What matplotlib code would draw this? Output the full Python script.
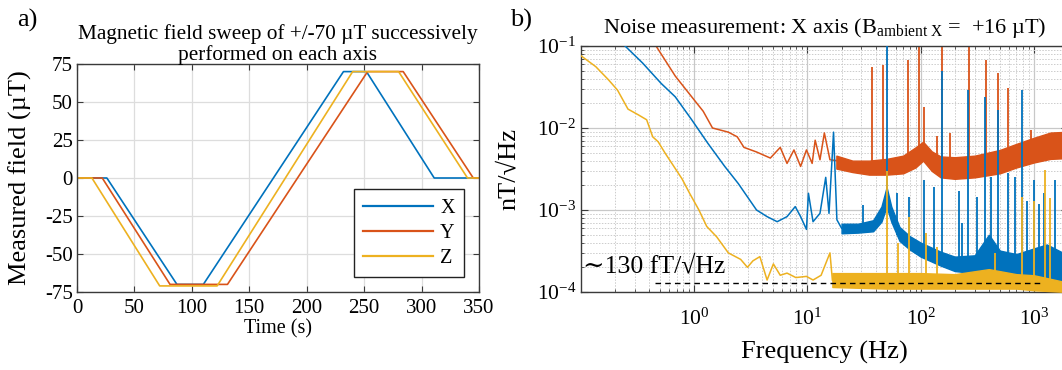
import numpy as np
import matplotlib
matplotlib.use("Agg")
import matplotlib.pyplot as plt
from matplotlib.ticker import LogLocator, NullFormatter, MultipleLocator

# ---------------- Panel a: field sweep ----------------
time_x = [0, 26, 87, 110, 232, 252, 311, 350]
field_x = [0, 0, -70, -70, 70, 70, 0, 0]
time_y = [0, 22, 81, 131, 253, 284, 345, 350]
field_y = [0, 0, -70, -70, 70, 70, 0, 0]
time_z = [0, 13, 72, 122, 240, 280, 340, 350]
field_z = [0, 0, -71, -71, 70, 70, 0, 0]
sweep_labels = ["X", "Y", "Z"]

# ---------------- Panel b: noise spectra (nT/sqrt(Hz)) ----------------
# low-frequency traces
red_f = [0.46, 0.68, 0.95, 1.2, 1.45, 2.0, 2.4, 2.75, 3.55, 4.7, 5.75, 6.6, 7.6,
         8.7, 9.8, 11.0, 11.7, 12.9, 14.1, 15.8, 18.2]
red_v = [0.10, 0.043, 0.024, 0.016, 0.010, 0.0089, 0.0078, 0.0058, 0.0051, 0.0043,
         0.0058, 0.0037, 0.0054, 0.0034, 0.0054, 0.0037, 0.0071, 0.0041, 0.0087,
         0.0041, 0.0040]
blue_f = [0.245, 0.35, 0.51, 0.68, 0.95, 1.32, 1.86, 2.45, 3.55, 4.4, 5.4, 6.6, 7.8,
          8.7, 9.8, 10.2, 11.2, 12.9, 14.5, 15.5, 17.0, 18.2, 20.0]
blue_v = [0.10, 0.062, 0.035, 0.024, 0.0126, 0.0065, 0.0034, 0.0021, 0.0010, 0.00083,
          0.00072, 0.00083, 0.0011, 0.00083, 0.00058, 0.0016, 0.00072, 0.00091,
          0.0025, 0.00091, 0.0089, 0.00076, 0.00060]
yellow_f = [0.10, 0.135, 0.174, 0.21, 0.26, 0.32, 0.38, 0.43, 0.48, 0.55, 0.68, 0.78,
            0.91, 1.1, 1.29, 1.58, 2.0, 2.57, 2.95, 3.3, 3.8, 4.4, 5.0, 5.75, 6.6,
            7.9, 9.8, 11.2, 13.2, 15.8, 16.6]
yellow_v = [0.076, 0.056, 0.039, 0.029, 0.017, 0.0145, 0.0126, 0.0078, 0.0068, 0.0050,
            0.0032, 0.0024, 0.0016, 0.0010, 0.00063, 0.00047, 0.00030, 0.00025,
            0.00020, 0.00024, 0.00027, 0.00014, 0.00022, 0.00016, 0.00017, 0.00015,
            0.000155, 0.00014, 0.00016, 0.00030, 0.00014]

# high-frequency noise envelopes (freq, lower, upper)
red_band_f = [18, 25, 35, 50, 70, 90, 105, 125, 150, 200, 300, 500, 700, 1000, 1400, 2000]
red_band_lo = [0.0032, 0.0029, 0.0027, 0.0027, 0.0028, 0.0033, 0.0040, 0.0030, 0.0025,
               0.0024, 0.0025, 0.0028, 0.0033, 0.0038, 0.0042, 0.0043]
red_band_hi = [0.0046, 0.0040, 0.0040, 0.0042, 0.0046, 0.0058, 0.0068, 0.0052, 0.0045,
               0.0044, 0.0046, 0.0054, 0.0064, 0.0076, 0.0088, 0.0090]
blue_band_f = [20, 28, 38, 45, 50, 55, 65, 80, 100, 150, 200, 300, 400, 500, 700, 1000,
               1300, 2000]
blue_band_lo = [0.00052, 0.00053, 0.00055, 0.00072, 0.0011, 0.00072, 0.00042, 0.00033,
                0.00027, 0.00021, 0.00018, 0.00017, 0.00019, 0.00017, 0.00015,
                0.00014, 0.00012, 0.00011]
blue_band_hi = [0.00068, 0.00068, 0.00075, 0.0011, 0.0019, 0.0011, 0.00062, 0.00048,
                0.00040, 0.00031, 0.00027, 0.00028, 0.00050, 0.00032, 0.00029,
                0.00034, 0.00038, 0.00028]
yellow_band_f = [16.6, 50, 100, 200, 400, 700, 1000, 2000]
yellow_band_lo = [0.000115, 0.00011, 0.00011, 0.00011, 0.00011, 0.00011, 0.000105, 0.00010]
yellow_band_hi = [0.00017, 0.00017, 0.00017, 0.000165, 0.00019, 0.000165, 0.00016, 0.00013]

# narrow-band spikes (freq, peak value)
red_spike_f = [37, 46, 77, 96, 107, 140, 155, 182, 265, 375, 478, 590, 950]
red_spike_top = [0.056, 0.059, 0.068, 0.10, 0.018, 0.0080, 0.10, 0.0087, 0.10, 0.068,
                 0.047, 0.031, 0.0095]
blue_spike_f = [31, 50, 62, 79, 106, 132, 155, 218, 234, 262, 316, 373, 417, 477, 585,
                676, 790, 870, 1000, 1120, 1230, 1550]
blue_spike_top = [0.00115, 0.10, 0.0016, 0.00145, 0.0023, 0.0019, 0.05, 0.0017, 0.0007,
                  0.029, 0.00145, 0.024, 0.0025, 0.0166, 0.0028, 0.0025, 0.029, 0.0013,
                  0.0023, 0.0012, 0.0016, 0.0023]
yellow_spike_f = [50, 63, 79, 112, 139, 455, 790, 1000, 1250, 1400]
yellow_spike_top = [0.0030, 0.00040, 0.00083, 0.00052, 0.00035, 0.00030, 0.00145,
                    0.0013, 0.0031, 0.0014]

floor_level = 1.3e-4          # ~130 fT/sqrt(Hz)
floor_f = [0.45, 1200]

# ---------------- style ----------------
plt.rcParams["font.family"] = ["Liberation Serif", "DejaVu Serif"]
plt.rcParams["mathtext.fontset"] = "custom"
plt.rcParams["mathtext.rm"] = "Liberation Serif"
plt.rcParams["mathtext.it"] = "Liberation Serif:italic"
plt.rcParams["mathtext.bf"] = "Liberation Serif:bold"
plt.rcParams["axes.unicode_minus"] = False

C_BLUE = "#0072BD"
C_RED = "#D95319"
C_YEL = "#EDB120"
SPINE = "#3a3a3a"

W, H = 1062, 370
fig = plt.figure(figsize=(W / 100, H / 100), dpi=100)


def px_axes(l, t, r, b):
    return fig.add_axes([l / W, 1 - b / H, (r - l) / W, (b - t) / H])


# ---------- panel a ----------
ax1 = px_axes(77, 64, 479, 292)
ax1.plot(time_x, field_x, color=C_BLUE, lw=1.2, label=sweep_labels[0])
ax1.plot(time_y, field_y, color=C_RED, lw=1.2, label=sweep_labels[1])
ax1.plot(time_z, field_z, color=C_YEL, lw=1.2, label=sweep_labels[2])
ax1.set_xlim(0, 350)
ax1.set_ylim(-75, 75)
ax1.xaxis.set_major_locator(MultipleLocator(50))
ax1.yaxis.set_major_locator(MultipleLocator(25))
ax1.grid(True, color="#dddddd", lw=0.9)
ax1.set_axisbelow(True)
ax1.tick_params(direction="in", top=True, right=True, labelsize=15, length=4,
                color=SPINE)
ax1.tick_params(axis="x", pad=5)
ax1.tick_params(axis="y", pad=3)
for s in ax1.spines.values():
    s.set_color(SPINE)
    s.set_linewidth(1.0)
ax1.set_xlabel("Time (s)", fontsize=14.5, labelpad=1)
ax1.set_ylabel("Measured field (µT)", fontsize=19)
ax1.yaxis.set_label_coords(-0.112, 0.5)
ax1.set_title("Magnetic field sweep of +/-70 µT successively\nperformed on each axis",
              fontsize=15.3, pad=3, linespacing=1.05)
leg = ax1.legend(loc="lower right", bbox_to_anchor=(0.962, 0.066), borderaxespad=0,
                 fontsize=14.5, handlelength=3.5, handletextpad=0.35, labelspacing=0.3,
                 fancybox=False, framealpha=1, edgecolor="#222222", borderpad=0.45)
leg.get_frame().set_linewidth(1.0)
for line in leg.get_lines():
    line.set_linewidth(1.6)

# ---------- panel b ----------
ax2 = px_axes(581, 46, 1068, 292)
ax2.set_xscale("log")
ax2.set_yscale("log")


def draw_series(fq, vals, bf, blo, bhi, sf, stop, color, z):
    ax2.plot(fq, vals, color=color, lw=1.1, zorder=z)
    ax2.fill_between(bf, blo, bhi, color=color, lw=1.0, edgecolor=color, zorder=z)
    base = np.exp(np.interp(np.log(sf), np.log(bf), np.log(blo)))
    ax2.vlines(sf, base, stop, color=color, lw=1.3, zorder=z)


draw_series(red_f, red_v, red_band_f, red_band_lo, red_band_hi,
            red_spike_f, red_spike_top, C_RED, 2)
draw_series(blue_f, blue_v, blue_band_f, blue_band_lo, blue_band_hi,
            blue_spike_f, blue_spike_top, C_BLUE, 3)
draw_series(yellow_f, yellow_v, yellow_band_f, yellow_band_lo, yellow_band_hi,
            yellow_spike_f, yellow_spike_top, C_YEL, 4)

ax2.plot(floor_f, [floor_level, floor_level], color="black", lw=1.0,
         ls=(0, (4, 3)), zorder=6)
ax2.text(0.105, 1.72e-4, "∼130 fT/√Hz", fontsize=18.5, ha="left", va="baseline",
         zorder=7)

ax2.set_xlim(0.1, 2000)
ax2.set_ylim(1e-4, 1e-1)
ax2.xaxis.set_major_locator(LogLocator(base=10, numticks=10))
ax2.xaxis.set_minor_locator(LogLocator(base=10, subs=np.arange(2, 10), numticks=20))
ax2.yaxis.set_major_locator(LogLocator(base=10, numticks=10))
ax2.yaxis.set_minor_locator(LogLocator(base=10, subs=np.arange(2, 10), numticks=20))
ax2.xaxis.set_minor_formatter(NullFormatter())
ax2.yaxis.set_minor_formatter(NullFormatter())
ax2.set_xticks([1, 10, 100, 1000])
ax2.grid(True, which="major", color="#c8c8c8", lw=0.9)
ax2.grid(True, which="minor", color="#cccccc", lw=0.7, ls=(0, (1.5, 1.5)))
ax2.set_axisbelow(True)
ax2.tick_params(which="both", direction="in", top=True, right=True, color=SPINE)
ax2.tick_params(which="major", labelsize=15.5, length=5)
ax2.tick_params(which="minor", length=2.5)
ax2.tick_params(axis="x", which="major", pad=12)
for s in ax2.spines.values():
    s.set_color(SPINE)
    s.set_linewidth(1.0)
ax2.set_xlabel("Frequency (Hz)", fontsize=19, labelpad=8)
ax2.set_ylabel("nT/√Hz", fontsize=19)
ax2.yaxis.set_label_coords(-0.125, 0.5)
ax2.set_title(r"Noise measurement: X axis (B$_{\mathrm{ambient\ X}}$ =  +16 µT)",
              fontsize=16, pad=9)

fig.text(17 / W, 1 - 20 / H, "a)", fontsize=19, ha="left", va="center")
fig.text(510 / W, 1 - 20 / H, "b)", fontsize=19, ha="left", va="center")

fig.savefig("out.png", dpi=100)
